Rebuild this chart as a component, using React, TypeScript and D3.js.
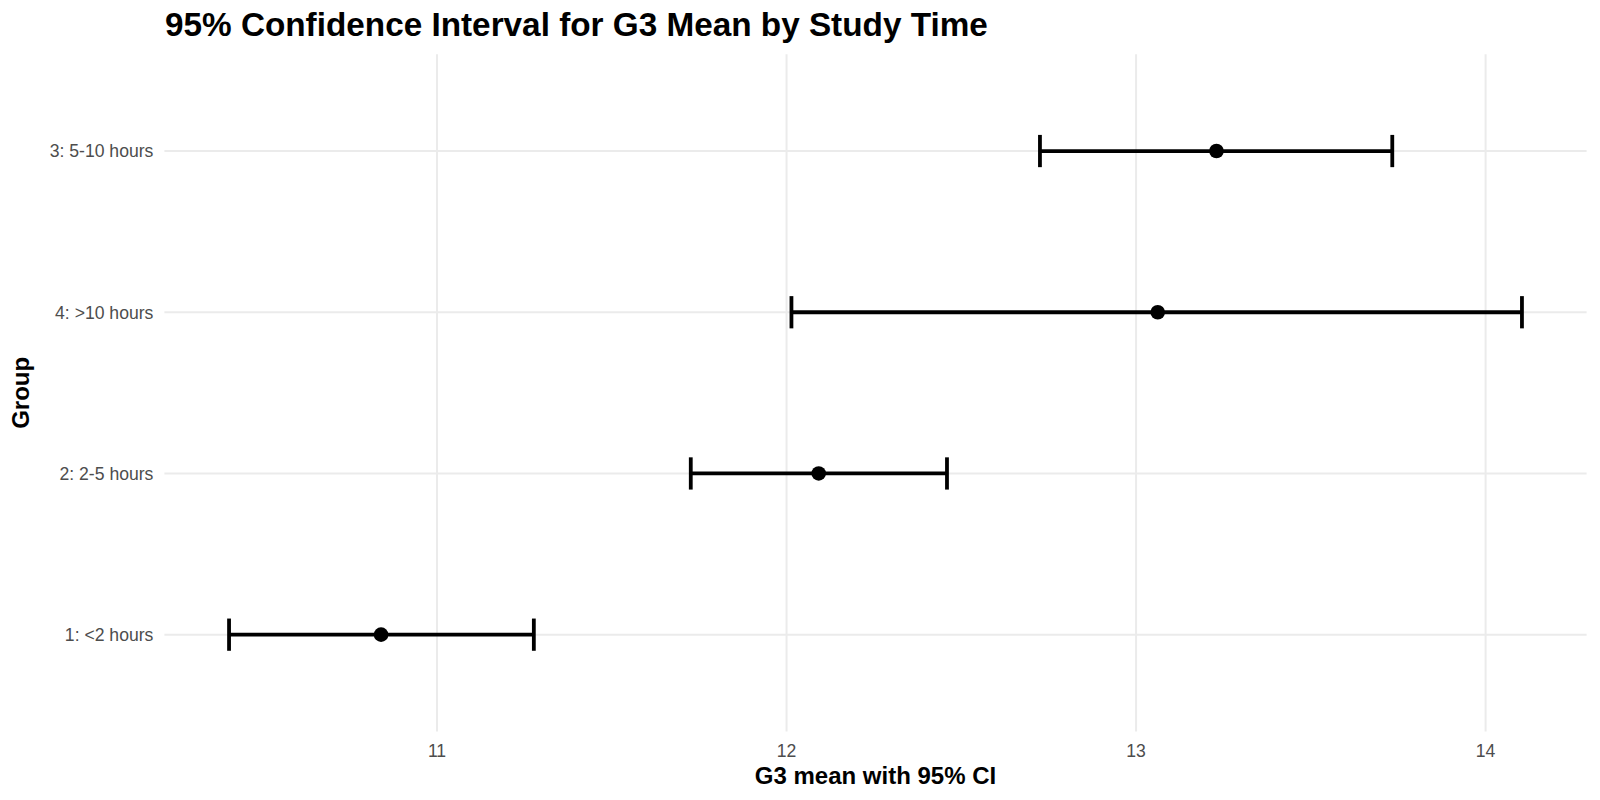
import React from 'react';
import * as d3 from 'd3';

// groups listed top to bottom, as in the chart
const groups = ['3: 5-10 hours', '4: >10 hours', '2: 2-5 hours', '1: <2 hours'];
const means = [13.23, 13.062, 12.092, 10.84];
const lowers = [12.725, 12.014, 11.726, 10.405];
const uppers = [13.733, 14.104, 12.459, 11.277];
const xTicks = [11, 12, 13, 14];

const W = 1600;
const H = 800;
const margin = { top: 54.3, right: 13.4, bottom: 68.6, left: 164.4 };
const font = 'Liberation Sans, Arial, Helvetica, sans-serif';

export default function App() {
  const lo = d3.min(lowers) as number;
  const hi = d3.max(uppers) as number;
  const pad = (hi - lo) * 0.05;

  const x = d3
    .scaleLinear()
    .domain([lo - pad, hi + pad])
    .range([margin.left, W - margin.right]);

  const y = d3
    .scalePoint<string>()
    .domain(groups)
    .range([margin.top, H - margin.bottom])
    .padding(0.6);

  const capHalf = (y.step() * 0.2) / 2;
  const panelTop = margin.top;
  const panelBottom = H - margin.bottom;

  return (
    <svg
      width={W}
      height={H}
      style={{ position: 'absolute', left: 0, top: 0, background: '#fff' }}
      fontFamily={font}
    >
      {/* grid */}
      <g stroke="#ebebeb" strokeWidth={2}>
        {xTicks.map(t => (
          <line key={t} x1={x(t)} x2={x(t)} y1={panelTop} y2={panelBottom} />
        ))}
        {groups.map(g => (
          <line key={g} x1={margin.left} x2={W - margin.right} y1={y(g)} y2={y(g)} />
        ))}
      </g>

      {/* error bars */}
      <g stroke="#000" strokeWidth={3.8} fill="none">
        {groups.map((g, i) => {
          const cy = y(g) as number;
          return (
            <g key={g}>
              <line x1={x(lowers[i])} x2={x(uppers[i])} y1={cy} y2={cy} />
              <line x1={x(lowers[i])} x2={x(lowers[i])} y1={cy - capHalf} y2={cy + capHalf} />
              <line x1={x(uppers[i])} x2={x(uppers[i])} y1={cy - capHalf} y2={cy + capHalf} />
            </g>
          );
        })}
      </g>

      {/* means */}
      <g fill="#000">
        {groups.map((g, i) => (
          <circle key={g} cx={x(means[i])} cy={y(g)} r={7.3} />
        ))}
      </g>

      {/* y tick labels */}
      <g fontSize={17.6} fill="#4d4d4d" textAnchor="end">
        {groups.map(g => (
          <text key={g} x={margin.left - 11} y={y(g)} dy="0.36em">
            {g}
          </text>
        ))}
      </g>

      {/* x tick labels */}
      <g fontSize={17.6} fill="#4d4d4d" textAnchor="middle">
        {xTicks.map(t => (
          <text key={t} x={x(t)} y={757}>
            {t}
          </text>
        ))}
      </g>

      {/* axis titles */}
      <text
        x={(margin.left + W - margin.right) / 2}
        y={784}
        fontSize={24}
        fontWeight="bold"
        textAnchor="middle"
        fill="#000"
      >
        G3 mean with 95% CI
      </text>
      <text
        transform={`translate(29,${(panelTop + panelBottom) / 2}) rotate(-90)`}
        fontSize={24}
        fontWeight="bold"
        textAnchor="middle"
        fill="#000"
      >
        Group
      </text>

      {/* title */}
      <text x={165} y={36} fontSize={33.3} fontWeight="bold" fill="#000">
        95% Confidence Interval for G3 Mean by Study Time
      </text>
    </svg>
  );
}
